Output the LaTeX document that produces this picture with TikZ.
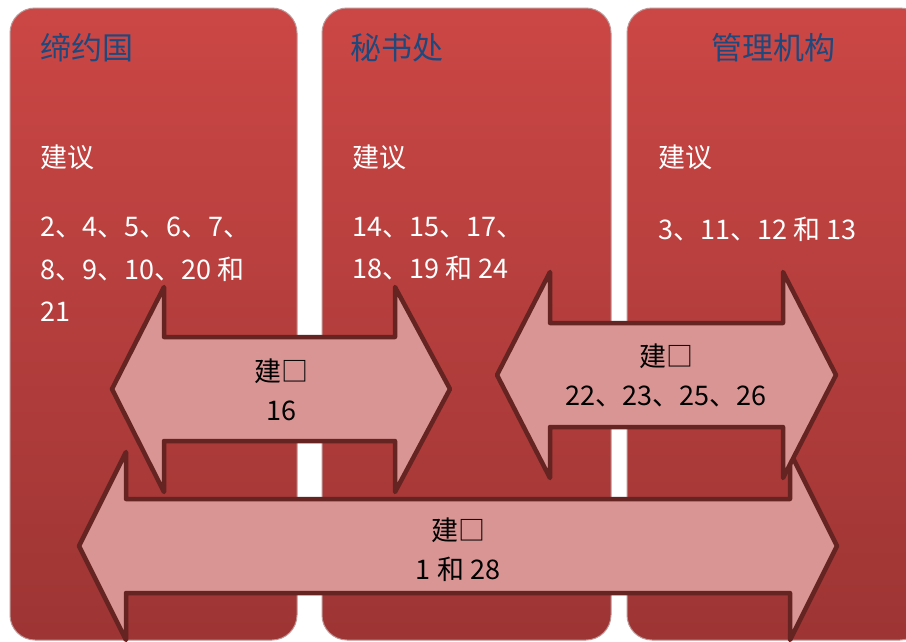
\documentclass[tikz,border=0pt]{standalone}
\usepackage{fontspec}
\setmainfont{Noto Sans CJK SC}
\usepackage{xcolor}
\usepackage{tikz}

\definecolor{colTop}{RGB}{203,71,69}
\definecolor{colBot}{RGB}{157,53,52}
\definecolor{colEdge}{RGB}{190,150,150}
\definecolor{arrFill}{RGB}{217,149,148}
\definecolor{arrLine}{RGB}{101,35,34}
\definecolor{headBlue}{RGB}{31,73,125}

\tikzset{column/.style={rounded corners=25pt, top color=colTop,
                        bottom color=colBot, draw=colEdge, line width=1pt},
         dblarrow/.style={fill=arrFill, draw=arrLine, line width=4.5pt,
                        line join=round},
         heading/.style={text=headBlue, inner sep=0pt,
                        font=\fontsize{31}{36}\selectfont},
         plain/.style={text=white, inner sep=0pt, align=left,
                        font=\fontsize{27}{42.5}\selectfont},
         arrowtext/.style={text=black, inner sep=0pt, align=center,
                        font=\fontsize{27}{39}\selectfont}}

\begin{document}
\begin{tikzpicture}[x=1pt, y=-1pt]
  \clip (0,0) rectangle (906,641);
  \fill[white] (0,0) rectangle (906,641);
  % three columns
  \path[column] (10,8)  rectangle (297,640);
  \path[column] (322,8) rectangle (611,640);
  \path[column] (627,8) rectangle (925,640);
  \node[heading, anchor=west] (parties)   at (40,48)  {缔约国};
  \node[heading, anchor=west] (secretary) at (350,48) {秘书处};
  \node[heading]              (bodies)    at (773,48) {管理机构};
  \node[plain, anchor=west] (sugg1) at (40,157)  {建议};
  \node[plain, anchor=west] (sugg2) at (352,157) {建议};
  \node[plain, anchor=west] (sugg3) at (658,157) {建议};
  \node[plain, anchor=north west] (nums1) at (40,217)
                            {2、4、5、6、7、\\8、9、10、20 和\\21};
  \node[plain, anchor=north west] (nums2) at (352,217)
                            {14、15、17、\\18、19 和 24};
  \node[plain, anchor=north west] (nums3) at (658,217)
                            {3、11、12 和 13};
  % block arrows
  \draw[dblarrow] (79,546) -- (126,452) -- (126,499) -- (790,499) -- (790,452)
                  -- (837,546) -- (790,640) -- (790,593) -- (126,593)
                  -- (126,640) -- cycle;
  \draw[dblarrow] (112,389) -- (164,287) -- (164,337) -- (395,337) -- (395,287)
                  -- (450,389) -- (395,492) -- (395,441) -- (164,441)
                  -- (164,492) -- cycle;
  \draw[dblarrow] (497,375) -- (550,272) -- (550,323) -- (783,323) -- (783,272)
                  -- (836,375) -- (783,478) -- (783,427) -- (550,427)
                  -- (550,478) -- cycle;
  \node[arrowtext] (all)   at (458,550) {建□\\1 和 28};
  \node[arrowtext] (left)  at (281,390) {建□\\16};
  \node[arrowtext] (right) at (666,375) {建□\\22、23、25、26};
\end{tikzpicture}
\end{document}
